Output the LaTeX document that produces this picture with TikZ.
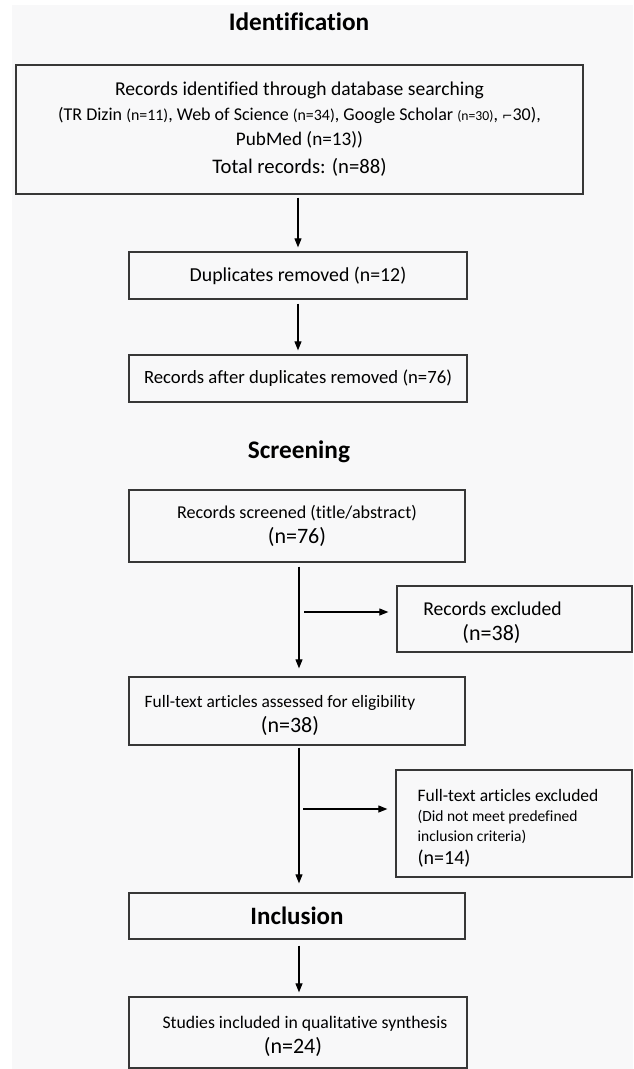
\documentclass[tikz,border=0pt]{standalone}
\usepackage{fontspec}
\setmainfont{Carlito}[Ligatures=NoCommon]
\newfontfamily\symfont{DejaVu Sans}
\usetikzlibrary{positioning,arrows.meta}
\definecolor{flowline}{RGB}{55,55,55}
\definecolor{flowpaper}{RGB}{248,248,249}
\newcommand{\fsz}[2]{\fontsize{#1}{#2}\selectfont}
\newcommand{\topstrut}{\rule{0pt}{21pt}}

\tikzset{
  flowbox/.style={draw=flowline,line width=1.3pt,inner sep=0pt,align=center,font=\fsz{19}{25}},
  stagetitle/.style={font=\bfseries\fsz{25.3}{28}},
  flowarrow/.style={-{Triangle[length=9pt,width=7pt]},line width=1.1pt},
}

\begin{document}
\begin{tikzpicture}[x=1pt,y=-1pt]
\useasboundingbox (0,0) rectangle (633,1069);
\fill[white] (0,0) rectangle (633,1069);
\fill[flowpaper] (12,5) rectangle (633,1069);

% Identification
\node[stagetitle] (idtitle) at (299,22) {Identification};
\node[flowbox,minimum width=567pt,minimum height=129pt] (records) at (299.5,129.5) {%
{\fsz{19.6}{26}Records identified through database searching}\\
{\fsz{18}{24}(TR Dizin {\fsz{15.9}{24}(n=11)}, Web of Science {\fsz{15.9}{24}(n=34)}, Google Scholar {\fsz{13.7}{24}(n=30)}, {\symfont\fsz{12.5}{24}⌐}30),}\\
{\fsz{19.2}{26}PubMed (n=13))}\\[3pt]
{\fsz{20.7}{26}Total records: (n=88)}};
\node[flowbox,font=\fsz{19.8}{25},minimum width=338pt,minimum height=47pt] (dupes) at (298,275.5) {Duplicates removed (n=12)};
\node[flowbox,font=\fsz{18.7}{25},minimum width=338pt,minimum height=47pt] (afterdupes) at (298,378.5) {Records after duplicates removed (n=76)};

% Screening
\node[stagetitle] (scrtitle) at (299,452) {Screening};
\node[flowbox,minimum width=336pt,minimum height=72pt] (screened) at (297,526) {%
{\fsz{18.1}{25}Records screened (title/abstract)}\\{\fsz{22}{25}(n=76)}};
\node[flowbox,minimum width=235pt,minimum height=66pt] (scrout) at (514.5,619) {%
{\fsz{19.6}{24}\topstrut Records excluded\hspace*{44pt}}\\{\fsz{22}{24}(n=38)\hspace*{46pt}}};
\node[flowbox,minimum width=336pt,minimum height=68pt] (fulltext) at (297,711) {%
{\fsz{17.4}{24}\topstrut Full-text articles assessed for eligibility\hspace*{34pt}}\\{\fsz{22}{24}(n=38)\hspace*{14pt}}};
\node[flowbox,align=left,minimum width=236pt,minimum height=107pt] (ftout) at (514,823.5) {%
{\fsz{17.5}{25}\topstrut Full-text articles excluded\hspace*{12pt}}\\[-5pt]
{\fsz{15.5}{20}(Did not meet predefined}\\[-5pt]
{\fsz{15.5}{20}inclusion criteria)}\\[-2pt]
{\fsz{20}{22}(n=14)}};

% Inclusion
\node[flowbox,font=\bfseries\fsz{25}{25},minimum width=336pt,minimum height=46pt] (incl) at (297,916) {Inclusion};
\node[flowbox,minimum width=338pt,minimum height=71pt] (studies) at (298,1032.5) {%
{\fsz{17.7}{24}\topstrut\hspace*{14pt}Studies included in qualitative synthesis}\\{\fsz{22}{24}(n=24)\hspace*{10pt}}};

% connectors
\coordinate (split1) at (299,612);
\coordinate (split2) at (299,809);
\draw[flowarrow,shorten <=3pt,shorten >=4pt] (records.south -| dupes.north) -- (dupes.north);
\draw[flowarrow,shorten <=4pt,shorten >=4pt] (dupes) -- (afterdupes);
\draw[flowarrow,shorten <=4pt,shorten >=8pt] (screened.south -| split1) -- (fulltext.north -| split1);
\draw[flowarrow,shorten <=5pt,shorten >=8pt] (split1) -- (split1 -| scrout.west);
\draw[flowarrow,shorten <=2pt,shorten >=9pt] (fulltext.south -| split2) -- (incl.north -| split2);
\draw[flowarrow,shorten <=4pt,shorten >=8pt] (split2) -- (split2 -| ftout.west);
\draw[flowarrow,shorten <=6pt,shorten >=4pt] (incl.south -| split2) -- (studies.north -| split2);
\end{tikzpicture}
\end{document}
